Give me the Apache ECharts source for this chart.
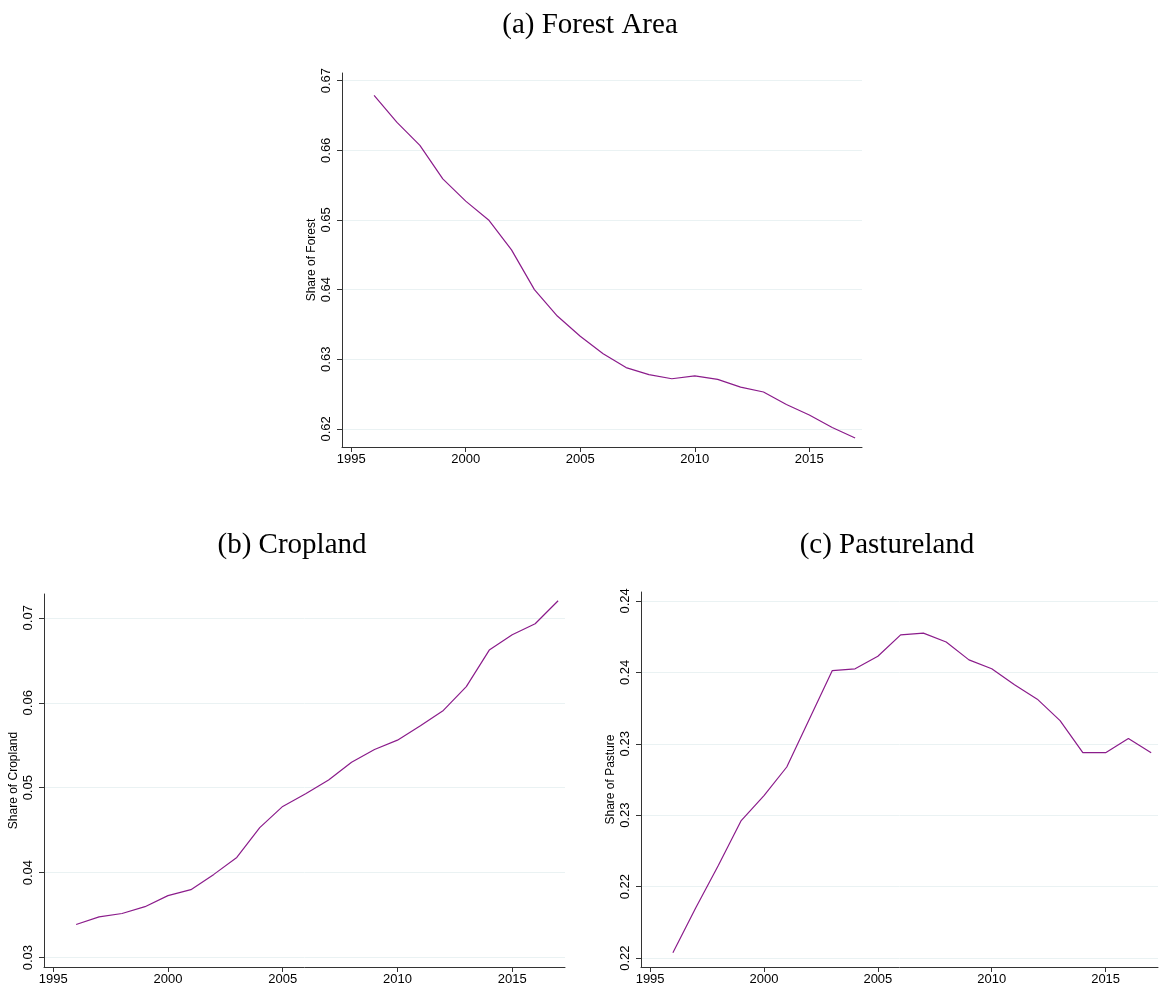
<!DOCTYPE html>
<html>
<head>
<meta charset="utf-8">
<script src="https://cdn.jsdelivr.net/npm/echarts@6/dist/echarts.min.js"></script>
<style>
  html, body { margin: 0; padding: 0; background: #fff; }
  #chart { width: 1159px; height: 988px; }
</style>
</head>
<body>
<div id="chart"></div>
<script>
const years = [1996, 1997, 1998, 1999, 2000, 2001, 2002, 2003, 2004, 2005, 2006,
               2007, 2008, 2009, 2010, 2011, 2012, 2013, 2014, 2015, 2016, 2017]
const xTicks = [1995, 2000, 2005, 2010, 2015]

const forest = [0.6679, 0.6640, 0.6607, 0.6559, 0.6527, 0.6500, 0.6457, 0.6400, 0.6362, 0.6333, 0.6308,
                0.6288, 0.6278, 0.6272, 0.6276, 0.6271, 0.6260, 0.6253, 0.6235, 0.6220, 0.6202, 0.6187]
const forestTicks = [0.62, 0.63, 0.64, 0.65, 0.66, 0.67]

const cropland = [0.0339, 0.0348, 0.0352, 0.0360, 0.0373, 0.0380, 0.0398, 0.0418, 0.0453, 0.0478, 0.0493,
                  0.0509, 0.0530, 0.0545, 0.0556, 0.0573, 0.0591, 0.0619, 0.0662, 0.0680, 0.0693, 0.0720]
const croplandTicks = [0.03, 0.04, 0.05, 0.06, 0.07]

const pasture = [0.2203, 0.2228, 0.2252, 0.2277, 0.2291, 0.2307, 0.2334, 0.2361, 0.2362, 0.2369, 0.2381,
                 0.2382, 0.2377, 0.2367, 0.2362, 0.2353, 0.2345, 0.2333, 0.2315, 0.2315, 0.2323, 0.2315]
const pastureTicks = [0.220, 0.224, 0.228, 0.232, 0.236, 0.240]

const chart = echarts.init(document.getElementById('chart'))

const LINE  = '#8b1c8b'
const AXIS  = '#333'
const GRIDC = '#eaf2f3'
const FONT  = 'Liberation Sans'

const panels = [
  { title: '(a) Forest Area', tx: 585, ty: 6,   name: 'Share of Forest',   data: forest,   ticks: forestTicks,
    grid: { left: 342, top: 73,  width: 520, height: 374 }, ymin: 0.6174, ymax: 0.6711 },
  { title: '(b) Cropland',    tx: 287, ty: 526, name: 'Share of Cropland', data: cropland, ticks: croplandTicks,
    grid: { left: 44,  top: 594, width: 521, height: 373 }, ymin: 0.0289, ymax: 0.0728 },
  { title: '(c) Pastureland', tx: 882, ty: 526, name: 'Share of Pasture',  data: pasture,  ticks: pastureTicks,
    grid: { left: 641, top: 592, width: 517, height: 375 }, ymin: 0.2195, ymax: 0.2405 },
]

chart.setOption({
  backgroundColor: '#fff',
  animation: false,
  title: panels.map(p => ({
    text: p.title, left: p.tx, top: p.ty, textAlign: 'center',
    textStyle: { fontFamily: 'Liberation Serif', fontSize: 29, fontWeight: 'normal', color: '#000' },
  })),
  grid: panels.map(p => p.grid),
  xAxis: panels.map((p, i) => ({
    type: 'value', gridIndex: i, min: 1994.6, max: 2017.3,
    axisLine: { lineStyle: { color: AXIS, width: 1 } },
    axisTick: { show: true, length: 5, customValues: xTicks, lineStyle: { color: AXIS } },
    axisLabel: { customValues: xTicks, color: '#000', fontFamily: FONT, fontSize: 13, margin: 6,
                 formatter: v => String(v) },
    splitLine: { show: false },
  })),
  yAxis: panels.map((p, i) => ({
    type: 'value', gridIndex: i, min: p.ymin, max: p.ymax,
    name: p.name, nameLocation: 'middle', nameGap: 24,
    nameTextStyle: { color: '#000', fontFamily: FONT, fontSize: 12 },
    axisLine: { show: true, lineStyle: { color: AXIS, width: 1 } },
    axisTick: { show: true, length: 5, customValues: p.ticks, lineStyle: { color: AXIS } },
    axisLabel: {
      customValues: p.ticks, rotate: 90, color: '#000', fontFamily: FONT, fontSize: 13, margin: 9,
      formatter: v => v.toFixed(2),
    },
    splitLine: { show: true, lineStyle: { color: GRIDC, width: 1 } },
  })),
  series: panels.map((p, i) => ({
    type: 'line', xAxisIndex: i, yAxisIndex: i, z: 3,
    data: years.map((y, k) => [y, p.data[k]]),
    symbol: 'none', lineStyle: { color: LINE, width: 1.2 },
  })),
})
</script>
</body>
</html>
